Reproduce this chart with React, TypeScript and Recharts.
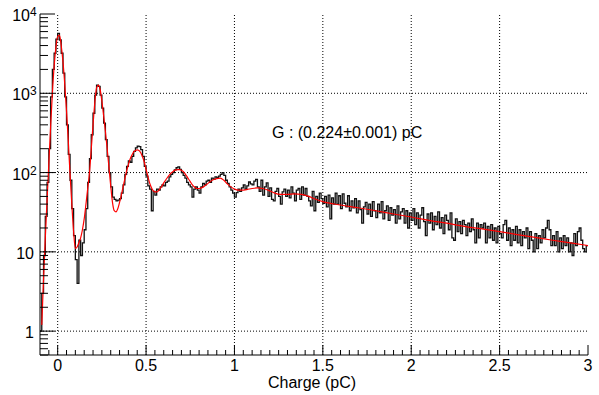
import { ComposedChart, Line, XAxis, YAxis, ReferenceLine } from "recharts";

const FONT = "'Liberation Sans', Arial, Helvetica, sans-serif";

// histogram binning (pC)
const binStart = -0.1;
const binWidth = 0.01;

// counts per bin, -0.1 .. 0.5 pC
const countsPeaks = [
  1, 3, 9, 28, 75, 200, 900, 2000, 3200, 4800,
  5700, 4700, 3200, 1800, 900, 400, 170, 80, 35, 16,
  8, 4, 14, 9, 13, 19, 35, 75, 150, 300,
  560, 950, 1270, 1220, 950, 650, 420, 260, 160, 100,
  66, 49, 46, 44, 45, 47, 55, 70, 95, 120,
  140, 135, 160, 185, 205, 215, 212, 195, 160, 120,
];

// 0.5 .. 1.1 pC
const countsMid = [
  90, 68, 62, 33, 58, 52, 62, 60, 66, 70,
  68, 75, 78, 88, 95, 100, 108, 115, 118, 110,
  100, 92, 85, 75, 70, 66, 49, 62, 66, 60,
  55, 66, 73, 70, 78, 80, 75, 85, 82, 88,
  86, 90, 95, 100, 92, 80, 73, 66, 60, 55,
  49, 56, 62, 58, 64, 70, 62, 68, 76, 72,
];

// 1.1 .. 3.0 pC
const countsTail = [
  70, 78, 82, 66, 58, 80, 52, 66, 74, 50,
  64, 46, 44, 58, 63, 50, 40, 57, 62, 50,
  60, 48, 66, 55, 44, 60, 63, 46, 66, 52,
  63, 50, 44, 38, 58, 33, 50, 42, 55, 47,
  41, 50, 37, 52, 26, 48, 40, 55, 40, 51,
  35, 54, 41, 37, 51, 33, 44, 36, 47, 31,
  44, 34, 23, 37, 42, 30, 40, 28, 43, 33,
  27, 40, 31, 43, 26, 33, 38, 25, 36, 29,
  34, 23, 38, 26, 32, 35, 23, 33, 20, 31,
  25, 35, 22, 31, 20, 29, 36, 24, 16, 30,
  23, 31, 19, 28, 22, 32, 20, 27, 17, 29,
  25, 19, 31, 15, 14, 26, 18, 24, 17, 25,
  22, 16, 23, 18, 26, 19, 13, 23, 15, 22,
  20, 23, 13, 21, 15, 22, 14, 20, 13, 21,
  17, 15, 22, 25, 14, 20, 12, 19, 14, 21,
  13, 19, 12, 18, 15, 20, 11, 18, 14, 10,
  17, 11, 16, 13, 19, 15, 20, 25, 19, 12,
  16, 12, 18, 10, 15, 11, 16, 12, 15, 10,
  13, 9, 17, 12, 18, 20, 14, 11, 10, 12,
];

// fit curve
const fitCharge = [
  -0.09, -0.08, -0.07, -0.06, -0.05, -0.04, -0.03, -0.02, -0.01, 0,
  0.01, 0.02, 0.03, 0.04, 0.05, 0.06, 0.07, 0.08, 0.09, 0.1,
  0.11, 0.12, 0.13, 0.14, 0.15, 0.16, 0.17, 0.18, 0.19, 0.2,
  0.21, 0.22, 0.23, 0.24, 0.25, 0.26, 0.27, 0.28, 0.29, 0.3,
  0.31, 0.32, 0.33, 0.34, 0.35, 0.36, 0.37, 0.38, 0.39, 0.4,
  0.41, 0.42, 0.43, 0.44, 0.45, 0.46, 0.47, 0.48, 0.49, 0.5,
  0.51, 0.52, 0.53, 0.54, 0.55, 0.56, 0.57, 0.58, 0.59, 0.6,
  0.61, 0.62, 0.63, 0.64, 0.65, 0.66, 0.67, 0.68, 0.69, 0.7,
  0.71, 0.72, 0.73, 0.74, 0.75, 0.76, 0.77, 0.78, 0.79, 0.8,
  0.82, 0.84, 0.86, 0.88, 0.9, 0.92, 0.94, 0.96, 0.98, 1.0,
  1.02, 1.04, 1.07, 1.1, 1.13, 1.16, 1.19, 1.22, 1.26, 1.3,
  1.34, 1.38, 1.42, 1.46, 1.5, 1.6, 1.7, 1.8, 1.9, 2.0,
  2.1, 2.2, 2.3, 2.4, 2.5, 2.6, 2.7, 2.8, 2.9, 3.0,
];
const fitCounts = [
  1.2, 4.5, 15, 45, 130, 380, 1000, 2200, 3800, 5200,
  5400, 4000, 2500, 1300, 600, 250, 95, 40, 18, 11,
  11.5, 13, 15, 19, 26, 40, 63, 100, 200, 400,
  760, 1170, 1270, 1120, 800, 520, 330, 200, 117, 68,
  42, 33, 32, 35, 42, 52, 66, 83, 105, 126,
  148, 166, 182, 190, 193, 190, 178, 158, 135, 110,
  90, 74, 65, 59, 57, 57, 59, 63, 68, 74,
  80, 86, 92, 98, 102, 106, 108, 109, 109, 107,
  103, 97, 90, 83, 77, 71, 67, 64, 63, 63,
  65, 70, 76, 81, 84, 85, 80, 72, 66, 62,
  60, 60, 61, 63, 64, 63, 60, 56, 53, 53,
  54, 53, 50, 46, 43, 39, 36, 33, 30, 27.5,
  25, 23, 21, 19.5, 18, 16.5, 15.2, 14, 13, 12,
];

const xMajor = [0, 0.5, 1, 1.5, 2, 2.5, 3];
const yMajor = [1, 10, 100, 1000, 10000];
const gainText = "G : (0.224\u00b10.001) pC";
const xTitle = "Charge (pC)";

const counts = [...countsPeaks, ...countsMid, ...countsTail];
const histData = counts.map((c, i) => ({ x: +(binStart + i * binWidth).toFixed(3), y: c }));
histData.push({ x: 3, y: counts[counts.length - 1] });
const fitData = fitCharge.map((x, i) => ({ x, y: fitCounts[i] }));

// ticks every 0.05 pC, log minors 2..9
const xTicks = Array.from({ length: 62 }, (_, i) => +(-0.05 + i * 0.05).toFixed(2));
const yTicks: number[] = [];
for (let e = -1; e <= 3; e++) {
  for (let m = 1; m <= 9; m++) {
    const v = +(m * 10 ** e).toPrecision(3);
    if (v >= 0.5) yTicks.push(v);
  }
}
yTicks.push(10000);

const BottomTick = ({ x, y, payload }: any) => {
  const major = xMajor.includes(payload.value);
  return (
    <g>
      <line x1={x} x2={x} y1={y} y2={y - (major ? 10 : 5)} stroke="#000" />
      {major && (
        <text x={x} y={y + 16} textAnchor="middle" fontFamily={FONT} fontSize={16} fill="#000">
          {payload.value}
        </text>
      )}
    </g>
  );
};

const TopTick = ({ x, y, payload }: any) => {
  const major = xMajor.includes(payload.value);
  return <line x1={x} x2={x} y1={y} y2={y + (major ? 10 : 5)} stroke="#000" />;
};

const LeftTick = ({ x, y, payload }: any) => {
  const v = payload.value;
  const major = yMajor.includes(v);
  const exp = Math.round(Math.log10(v));
  let label = null;
  if (major && exp < 2) {
    label = (
      <text x={x - 6} y={y + 7} textAnchor="end" fontFamily={FONT} fontSize={16} fill="#000">
        {v}
      </text>
    );
  } else if (major) {
    label = (
      <g fontFamily={FONT} fill="#000">
        <text x={x - 10} y={y + 7} textAnchor="end" fontSize={16}>10</text>
        <text x={x - 10} y={y + 2} textAnchor="start" fontSize={12}>{exp}</text>
      </g>
    );
  }
  return (
    <g>
      <line x1={x} x2={x + (major ? 15 : 8)} y1={y} y2={y} stroke="#000" />
      {label}
    </g>
  );
};

const RightTick = ({ x, y, payload }: any) => {
  const major = yMajor.includes(payload.value);
  return <line x1={x} x2={x - (major ? 15 : 8)} y1={y} y2={y} stroke="#000" />;
};

export default function App() {
  return (
    <div style={{ position: "relative", width: 599, height: 395 }}>
      <style>{"body{margin:0}"}</style>
      <ComposedChart width={599} height={395} margin={{ top: 14, right: 11, bottom: 0, left: 0 }}>
        <XAxis
          xAxisId="b"
          type="number"
          dataKey="x"
          domain={[-0.1, 3]}
          allowDataOverflow
          ticks={xTicks}
          interval={0}
          tick={BottomTick}
          tickLine={false}
          tickSize={0}
          tickMargin={0}
          height={40}
          axisLine={{ stroke: "#000" }}
        />
        <XAxis
          xAxisId="t"
          orientation="top"
          type="number"
          dataKey="x"
          domain={[-0.1, 3]}
          allowDataOverflow
          ticks={xTicks}
          interval={0}
          tick={TopTick}
          tickLine={false}
          tickSize={0}
          tickMargin={0}
          height={0}
          axisLine={{ stroke: "#000" }}
        />
        <YAxis
          yAxisId="l"
          scale="log"
          type="number"
          domain={[0.5, 10000]}
          allowDataOverflow
          ticks={yTicks}
          interval={0}
          tick={LeftTick}
          tickLine={false}
          tickSize={0}
          tickMargin={0}
          width={40}
          axisLine={{ stroke: "#000" }}
        />
        <YAxis
          yAxisId="r"
          orientation="right"
          scale="log"
          type="number"
          domain={[0.5, 10000]}
          allowDataOverflow
          ticks={yTicks}
          interval={0}
          tick={RightTick}
          tickLine={false}
          tickSize={0}
          tickMargin={0}
          width={0}
          axisLine={{ stroke: "#000" }}
        />
        {xMajor.slice(0, -1).map((v) => (
          <ReferenceLine key={"gx" + v} x={v} xAxisId="b" yAxisId="l" stroke="#000" strokeDasharray="1 2" />
        ))}
        {yMajor.slice(0, -1).map((v) => (
          <ReferenceLine key={"gy" + v} y={v} xAxisId="b" yAxisId="l" stroke="#000" strokeDasharray="1 2" />
        ))}
        <Line
          data={histData}
          dataKey="y"
          xAxisId="b"
          yAxisId="l"
          type="stepAfter"
          stroke="#111"
          strokeWidth={1.3}
          dot={false}
          isAnimationActive={false}
        />
        <Line
          data={fitData}
          dataKey="y"
          xAxisId="b"
          yAxisId="l"
          type="monotone"
          stroke="#ff0000"
          strokeWidth={1.2}
          dot={false}
          isAnimationActive={false}
        />
      </ComposedChart>
      <svg
        width={599}
        height={395}
        style={{ position: "absolute", left: 0, top: 0, pointerEvents: "none" }}
      >
        <text x={272} y={138} fontFamily={FONT} fontSize={16} fill="#000">
          {gainText}
        </text>
        <text x={312} y={388} textAnchor="middle" fontFamily={FONT} fontSize={16} fill="#000">
          {xTitle}
        </text>
      </svg>
    </div>
  );
}
